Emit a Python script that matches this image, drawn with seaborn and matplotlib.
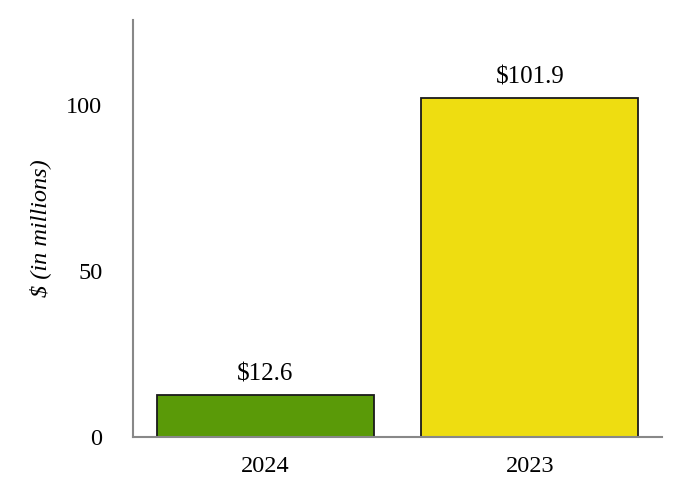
import matplotlib
matplotlib.use("Agg")
import matplotlib.pyplot as plt
import seaborn as sns
import pandas as pd

# Chart data
years = ["2024", "2023"]
values = [12.6, 101.9]
bar_colors = ["#5a9a08", "#eedd11"]

sns.set_style("white")
plt.rcParams['font.family'] = ['Liberation Serif', 'DejaVu Serif']
plt.rcParams['text.color'] = 'black'
plt.rcParams['xtick.color'] = 'black'
plt.rcParams['ytick.color'] = 'black'
plt.rcParams['axes.labelcolor'] = 'black'

df = pd.DataFrame({"year": years, "value": values})

fig = plt.figure(figsize=(6.82, 5.0), dpi=100)
ax = fig.add_axes([0.195, 0.126, 0.776, 0.834])

sns.barplot(data=df, x="year", y="value", hue="year", palette=bar_colors,
            legend=False, width=0.82, edgecolor="#1a1a1a", linewidth=1.3,
            saturation=1, ax=ax)

# Value labels above bars
for i, v in enumerate(values):
    ax.annotate(f"${v:.1f}", (i, v), xytext=(0, 7), textcoords="offset points",
                ha="center", va="bottom", fontsize=18)

ax.set_xlim(-0.5, 1.5)
ax.set_ylim(0, 125.5)
ax.set_yticks([0, 50, 100])
ax.set_xlabel("")
ax.set_ylabel("$ (in millions)", fontsize=17.5, style="italic", labelpad=11)
ax.tick_params(axis="both", labelsize=17.5, length=0)
ax.tick_params(axis="x", pad=14)
ax.tick_params(axis="y", pad=22)

for s in ["top", "right"]:
    ax.spines[s].set_visible(False)
for s in ["left", "bottom"]:
    ax.spines[s].set_color("#888888")
    ax.spines[s].set_linewidth(1.5)

fig.savefig("out.png", dpi=100)
